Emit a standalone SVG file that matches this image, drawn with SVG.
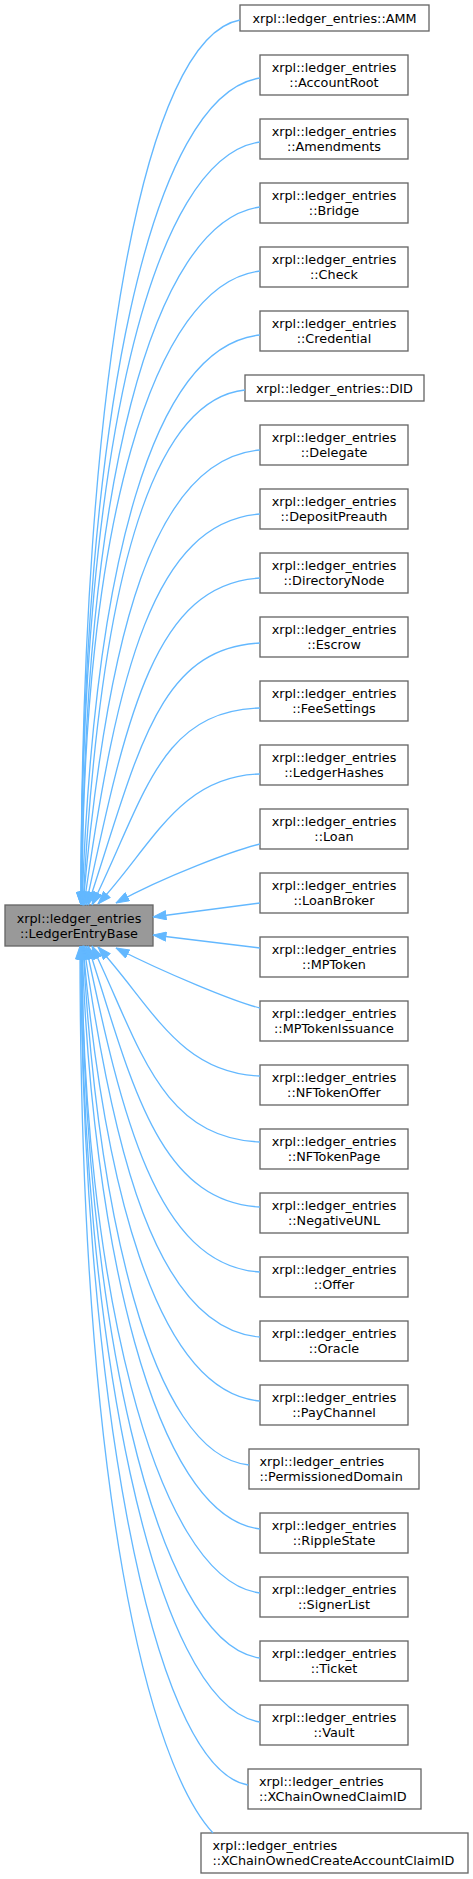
<svg xmlns="http://www.w3.org/2000/svg" width="473" height="1879" viewBox="0 0 473 1879">
<style>
.n rect{fill:#fff;stroke:#666;stroke-width:1.33}
.b rect{fill:#999;stroke:#666;stroke-width:1.33}
text{font-family:"DejaVu Sans","Noto Sans",sans-serif;font-size:12.8px;fill:#000}
.c{text-anchor:middle}
#edges path{fill:none;stroke:#63b8ff;stroke-width:1.33;marker-end:url(#ah)}
</style>
<defs>
<marker id="ah" markerUnits="userSpaceOnUse" viewBox="0 0 14 10" refX="13.5" refY="5" markerWidth="14" markerHeight="10" orient="auto">
<path d="M0.5,0.5 L13.5,5 L0.5,9.5 z" fill="#63b8ff" stroke="#63b8ff" stroke-width="1"/>
</marker>
</defs>
<rect width="473" height="1879" fill="#fff"/>
<g id="base" class="b"><rect x="5" y="905" width="148" height="41"/><text class="c" x="79" y="922.5">xrpl::ledger_entries</text><text class="c" x="79" y="937.5">::LedgerEntryBase</text></g>
<g id="n_amm" class="n"><rect x="240" y="5" width="189" height="26"/><text class="c" x="334.5" y="22.5">xrpl::ledger_entries::AMM</text></g>
<g id="n_accountroot" class="n"><rect x="260" y="55" width="148" height="40"/><text class="c" x="334" y="72.3">xrpl::ledger_entries</text><text class="c" x="334" y="87">::AccountRoot</text></g>
<g id="n_amendments" class="n"><rect x="260" y="119" width="148" height="40"/><text class="c" x="334" y="136.3">xrpl::ledger_entries</text><text class="c" x="334" y="151">::Amendments</text></g>
<g id="n_bridge" class="n"><rect x="260" y="183" width="148" height="40"/><text class="c" x="334" y="200.3">xrpl::ledger_entries</text><text class="c" x="334" y="215">::Bridge</text></g>
<g id="n_check" class="n"><rect x="260" y="247" width="148" height="40"/><text class="c" x="334" y="264.3">xrpl::ledger_entries</text><text class="c" x="334" y="279">::Check</text></g>
<g id="n_credential" class="n"><rect x="260" y="311" width="148" height="40"/><text class="c" x="334" y="328.3">xrpl::ledger_entries</text><text class="c" x="334" y="343">::Credential</text></g>
<g id="n_did" class="n"><rect x="245" y="375" width="179" height="26"/><text class="c" x="334.5" y="392.5">xrpl::ledger_entries::DID</text></g>
<g id="n_delegate" class="n"><rect x="260" y="425" width="148" height="40"/><text class="c" x="334" y="442.3">xrpl::ledger_entries</text><text class="c" x="334" y="457">::Delegate</text></g>
<g id="n_depositpreauth" class="n"><rect x="260" y="489" width="148" height="40"/><text class="c" x="334" y="506.3">xrpl::ledger_entries</text><text class="c" x="334" y="521">::DepositPreauth</text></g>
<g id="n_directorynode" class="n"><rect x="260" y="553" width="148" height="40"/><text class="c" x="334" y="570.3">xrpl::ledger_entries</text><text class="c" x="334" y="585">::DirectoryNode</text></g>
<g id="n_escrow" class="n"><rect x="260" y="617" width="148" height="40"/><text class="c" x="334" y="634.3">xrpl::ledger_entries</text><text class="c" x="334" y="649">::Escrow</text></g>
<g id="n_feesettings" class="n"><rect x="260" y="681" width="148" height="40"/><text class="c" x="334" y="698.3">xrpl::ledger_entries</text><text class="c" x="334" y="713">::FeeSettings</text></g>
<g id="n_ledgerhashes" class="n"><rect x="260" y="745" width="148" height="40"/><text class="c" x="334" y="762.3">xrpl::ledger_entries</text><text class="c" x="334" y="777">::LedgerHashes</text></g>
<g id="n_loan" class="n"><rect x="260" y="809" width="148" height="40"/><text class="c" x="334" y="826.3">xrpl::ledger_entries</text><text class="c" x="334" y="841">::Loan</text></g>
<g id="n_loanbroker" class="n"><rect x="260" y="873" width="148" height="40"/><text class="c" x="334" y="890.3">xrpl::ledger_entries</text><text class="c" x="334" y="905">::LoanBroker</text></g>
<g id="n_mptoken" class="n"><rect x="260" y="937" width="148" height="40"/><text class="c" x="334" y="954.3">xrpl::ledger_entries</text><text class="c" x="334" y="969">::MPToken</text></g>
<g id="n_mptokenissuance" class="n"><rect x="260" y="1001" width="148" height="40"/><text class="c" x="334" y="1018.3">xrpl::ledger_entries</text><text class="c" x="334" y="1033">::MPTokenIssuance</text></g>
<g id="n_nftokenoffer" class="n"><rect x="260" y="1065" width="148" height="40"/><text class="c" x="334" y="1082.3">xrpl::ledger_entries</text><text class="c" x="334" y="1097">::NFTokenOffer</text></g>
<g id="n_nftokenpage" class="n"><rect x="260" y="1129" width="148" height="40"/><text class="c" x="334" y="1146.3">xrpl::ledger_entries</text><text class="c" x="334" y="1161">::NFTokenPage</text></g>
<g id="n_negativeunl" class="n"><rect x="260" y="1193" width="148" height="40"/><text class="c" x="334" y="1210.3">xrpl::ledger_entries</text><text class="c" x="334" y="1225">::NegativeUNL</text></g>
<g id="n_offer" class="n"><rect x="260" y="1257" width="148" height="40"/><text class="c" x="334" y="1274.3">xrpl::ledger_entries</text><text class="c" x="334" y="1289">::Offer</text></g>
<g id="n_oracle" class="n"><rect x="260" y="1321" width="148" height="40"/><text class="c" x="334" y="1338.3">xrpl::ledger_entries</text><text class="c" x="334" y="1353">::Oracle</text></g>
<g id="n_paychannel" class="n"><rect x="260" y="1385" width="148" height="40"/><text class="c" x="334" y="1402.3">xrpl::ledger_entries</text><text class="c" x="334" y="1417">::PayChannel</text></g>
<g id="n_permissioneddomain" class="n"><rect x="249" y="1449" width="170" height="40"/><text x="259.5" y="1466.3">xrpl::ledger_entries</text><text x="259.5" y="1481">::PermissionedDomain</text></g>
<g id="n_ripplestate" class="n"><rect x="260" y="1513" width="148" height="40"/><text class="c" x="334" y="1530.3">xrpl::ledger_entries</text><text class="c" x="334" y="1545">::RippleState</text></g>
<g id="n_signerlist" class="n"><rect x="260" y="1577" width="148" height="40"/><text class="c" x="334" y="1594.3">xrpl::ledger_entries</text><text class="c" x="334" y="1609">::SignerList</text></g>
<g id="n_ticket" class="n"><rect x="260" y="1641" width="148" height="40"/><text class="c" x="334" y="1658.3">xrpl::ledger_entries</text><text class="c" x="334" y="1673">::Ticket</text></g>
<g id="n_vault" class="n"><rect x="260" y="1705" width="148" height="40"/><text class="c" x="334" y="1722.3">xrpl::ledger_entries</text><text class="c" x="334" y="1737">::Vault</text></g>
<g id="n_xchainownedclaimid" class="n"><rect x="248" y="1769" width="173" height="40"/><text x="259" y="1786.3">xrpl::ledger_entries</text><text x="259" y="1801">::XChainOwnedClaimID</text></g>
<g id="n_xchainownedcreateaccountclaimid" class="n"><rect x="201" y="1833" width="267" height="40"/><text x="212.5" y="1850.3">xrpl::ledger_entries</text><text x="212.5" y="1865">::XChainOwnedCreateAccountClaimID</text></g>
<g id="edges">
<path d="M240,20 C145,37 81,373 81,905"/>
<path d="M260,78 C152.6,94 81,407 81,905"/>
<path d="M260,142 C152.6,157 81,447 81,905"/>
<path d="M260,207 C153.2,221 82,485 82,905"/>
<path d="M260,271 C153.2,283 82,525 82,905"/>
<path d="M260,335 C153.2,346 94,563 82,905"/>
<path d="M245,390 C147.8,400 99,595 83,905"/>
<path d="M260,450 C153.8,459 107,632 83,905"/>
<path d="M260,514 C154.4,522 117,670 84,905"/>
<path d="M260,578 C155.6,584 127,712 86,905"/>
<path d="M260,643 C156.8,648 138,754 88,905"/>
<path d="M260,708 C159.2,711 145,797 92,905"/>
<path d="M260,774 C179,776 152,846 98,904"/>
<path d="M260,844 C235,850 165,876 116,903"/>
<path d="M260,903 L153,917"/>
<path d="M260,948 L153,935"/>
<path d="M260,1008 C235,1002 165,973 116,948"/>
<path d="M260,1076 C179,1073 152,1006 98,947"/>
<path d="M260,1142 C159.2,1138 139,1043 92,946"/>
<path d="M260,1207 C156.8,1202 131,1079 88,946"/>
<path d="M260,1272 C155.6,1266 121,1112 86,946"/>
<path d="M260,1337 C154.4,1329 112,1144 84,946"/>
<path d="M260,1401 C153.8,1392 103,1175 83,946"/>
<path d="M249,1465 C149.4,1455 97,1206 83,946"/>
<path d="M260,1529 C153.2,1517 92,1238 82,946"/>
<path d="M260,1593 C153.2,1580 82,1270 82,946"/>
<path d="M260,1658 C153.2,1644 82,1302 82,946"/>
<path d="M260,1722 C152.6,1706 81,1334 81,946"/>
<path d="M248,1785 C147.8,1768 81,1366 81,946"/>
<path d="M213,1833 C150,1765 80,1500 80,946"/>
</g>
</svg>
